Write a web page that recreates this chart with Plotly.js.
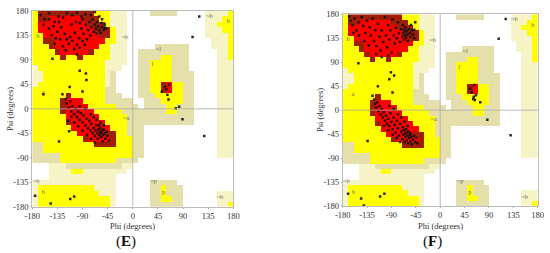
<!DOCTYPE html>
<html><head><meta charset="utf-8">
<script src="https://cdn.plot.ly/plotly-3.0.1.min.js"></script>
<style>html,body{margin:0;padding:0;background:#fff;}#chart{width:550px;height:253px;}</style>
</head><body><div id="chart"></div>
<script>
// Ramachandran region map, 10-degree cells, rows from psi 180 (top) down to psi -180.
// codes: 0 disallowed, 1 generous (pale), 2 generous (tan), 3 allowed (yellow), 4 core (red), 5 core (dark red)
const regionRuns = [
 [[3,1],[5,10],[3,3],[1,3],[0,4],[2,5],[0,5],[1,4],[3,1]],
 [[3,1],[5,2],[4,6],[5,3],[3,2],[1,3],[0,14],[1,3],[3,2]],
 [[3,1],[4,9],[5,3],[3,1],[1,3],[0,14],[1,2],[3,3]],
 [[3,1],[4,10],[5,3],[3,1],[1,2],[0,14],[1,3],[3,2]],
 [[3,2],[4,10],[5,2],[3,1],[1,2],[0,14],[1,4],[3,1]],
 [[3,2],[5,2],[4,9],[3,2],[1,2],[0,15],[1,3],[3,1]],
 [[3,3],[5,1],[4,8],[3,2],[1,3],[0,5],[2,6],[0,4],[1,3],[3,1]],
 [[3,4],[5,1],[4,5],[5,1],[3,3],[1,3],[0,2],[2,9],[0,5],[1,2],[3,1]],
 [[3,5],[5,1],[3,2],[5,1],[3,5],[1,3],[0,2],[2,4],[3,2],[2,3],[0,5],[1,2],[3,1]],
 [[3,13],[1,4],[0,2],[2,2],[3,4],[2,3],[0,5],[1,3]],
 [[1,1],[3,12],[1,3],[0,3],[2,2],[3,4],[2,3],[0,5],[1,3]],
 [[1,2],[3,11],[1,1],[2,1],[0,4],[2,2],[3,4],[2,4],[0,4],[1,3]],
 [[1,2],[3,11],[1,1],[2,1],[0,4],[2,2],[3,4],[2,4],[0,4],[1,3]],
 [[1,1],[3,12],[1,1],[2,1],[0,4],[2,2],[3,2],[5,1],[4,1],[3,2],[2,2],[0,4],[1,3]],
 [[3,13],[2,2],[0,4],[2,2],[3,2],[5,1],[4,1],[3,2],[2,2],[0,4],[1,3]],
 [[3,6],[5,1],[3,6],[2,3],[0,3],[2,3],[3,5],[2,2],[0,4],[1,3]],
 [[3,5],[5,1],[4,3],[3,4],[2,5],[0,2],[2,3],[3,4],[2,2],[0,4],[1,3]],
 [[3,5],[5,1],[4,4],[3,5],[2,4],[0,1],[2,4],[3,2],[2,3],[0,4],[1,3]],
 [[3,5],[5,1],[4,5],[3,5],[2,8],[3,2],[2,3],[0,4],[1,3]],
 [[3,6],[4,6],[3,5],[2,12],[0,4],[1,3]],
 [[3,6],[5,1],[4,6],[3,4],[2,12],[0,4],[1,3]],
 [[3,7],[4,7],[3,3],[2,3],[0,13],[1,3]],
 [[3,8],[4,5],[5,2],[3,2],[2,3],[0,13],[1,3]],
 [[3,9],[5,1],[4,4],[5,1],[3,3],[2,2],[0,13],[1,3]],
 [[2,2],[3,9],[5,4],[3,3],[2,2],[0,13],[1,3]],
 [[2,2],[3,16],[2,2],[0,13],[1,3]],
 [[2,5],[3,13],[2,2],[0,13],[1,3]],
 [[2,5],[3,10],[2,4],[0,17]],
 [[0,3],[1,3],[2,10],[1,2],[0,18]],
 [[0,3],[1,4],[3,2],[1,8],[0,19]],
 [[0,3],[1,12],[0,21]],
 [[1,15],[0,6],[2,5],[0,10]],
 [[1,1],[3,10],[1,4],[0,6],[2,2],[3,1],[2,3],[0,9]],
 [[1,1],[3,11],[1,3],[0,6],[2,2],[3,1],[2,3],[0,6],[1,3]],
 [[1,1],[3,13],[1,1],[0,6],[2,2],[3,2],[2,2],[0,6],[1,3]],
 [[1,1],[3,13],[1,1],[0,6],[2,6],[0,6],[1,2],[3,1]]
];

const tickVals = [-180,-135,-90,-45,0,45,90,135,180];
const tickText = ['-180','-135','-90','-45','0','45','90','135','180'];

// Panel E residues
const ePhi = [
 119,107,128,89,65,52,62,64,77,83,58,60,
 -144,-95,-84,-83,-90,-113,-126,-160,-114,-132,
 -175,-147,-112,-105,
 -165,-158,-150,-140,-133,-125,-118,-108,-100,-92,-85,-160,-150,-142,-135,-128,-122,-118,-115,-112,-108,-104,-100,-96,-92,-88,-84,-80,-78,-76,-74,-72,-70,-68,-66,-65,-64,-62,-60,-58,-56,-55,-52,-50,-48,-130,-138,-145,-125,-120,-105,-95,-90,-86,-82,-140,-100,-150,-132,-110,-102,-95,-90,-75,-68,-60,-55,-50,
 -120,-118,-115,-112,-110,-108,-105,-102,-100,-98,-95,-93,-90,-88,-85,-83,-80,-78,-76,-74,-72,-70,-68,-67,-65,-64,-63,-62,-60,-59,-58,-57,-56,-55,-54,-53,-52,-50,-49,-47,-45,-43,-60,-65,-70,-75,-85,-95,-105,-98,-90,-82,-75,-68,-58,-52,-110,-116
];
const ePsi = [
 170,132,-50,-19,45,32,26,17,1,4,40,36,
 92,70,65,53,32,40,27,27,-41,-60,
 -160,-174,-166,-161,
 172,165,176,160,170,168,176,172,177,170,174,155,148,152,142,150,138,128,120,132,125,140,118,130,148,138,155,145,160,135,150,165,142,155,148,138,160,152,145,140,158,150,145,149,148,128,130,135,115,108,110,112,125,118,128,120,100,165,160,155,160,158,165,172,178,170,165,155,
 18,10,2,14,-5,5,-10,0,-15,-5,-20,-8,-25,-12,-30,-18,-35,-22,-40,-28,-45,-35,-50,-40,-30,-45,-55,-38,-48,-42,-35,-52,-45,-40,-60,-48,-38,-45,-55,-42,-50,-58,-30,-20,-15,-10,0,5,-25,-32,-40,-48,-55,-62,-25,-30,-15,-22
];

// Panel F residues
const fPhi = [
 121,108,130,87,63,55,58,62,61,64,74,66,
 -151,-91,-85,-94,-115,-88,-125,-134,
 -170,-146,-141,-111,-103,
 -168,-165,-162,-158,-155,-150,-145,-142,-138,-135,-130,-128,-125,-122,-120,-118,-115,-112,-110,-108,-105,-102,-100,-98,-96,-94,-92,-90,-88,-86,-84,-82,-80,-78,-76,-74,-72,-70,-69,-68,-67,-66,-65,-64,-63,-62,-61,-60,-58,-56,-55,-54,-52,-50,-48,-46,-140,-132,-150,-160,-108,-118,-96,-48,
 -122,-120,-118,-116,-114,-112,-110,-108,-106,-104,-102,-100,-98,-96,-94,-92,-90,-88,-86,-84,-82,-80,-78,-76,-74,-72,-70,-69,-68,-67,-66,-65,-64,-63,-62,-61,-60,-59,-58,-57,-56,-55,-54,-53,-52,-50,-48,-46,-44,-42,-60,-66,-72,-78,-86,-94,-104,-96,-88,-80,-74
];
const fPsi = [
 171,134,-47,-18,47,40,33,25,21,19,15,28,
 88,71,65,58,45,33,27,-58,
 -157,-166,-179,-162,-157,
 176,168,160,172,150,165,175,158,145,168,155,140,172,130,150,120,162,138,112,150,128,175,140,118,160,132,150,108,170,140,125,155,135,165,145,128,152,138,160,145,132,150,140,155,136,148,142,130,152,145,138,160,150,142,135,165,130,122,140,145,100,105,102,151,
 20,12,5,15,-2,8,-8,2,-14,-4,-20,-10,-26,-16,-30,-6,-22,-36,-14,-28,-42,-20,-34,-48,-26,-40,-54,-32,-46,-38,-60,-44,-50,-36,-56,-42,-48,-62,-40,-52,-46,-58,-44,-50,-64,-55,-48,-60,-52,-62,-30,-22,-14,-8,2,8,-30,-38,-46,-52,-60
];

// Region letters
const labelText = ['b','~b','~b','b','~l','l','a','~a','~b','b','~p','p','~b'];
const labelPhi  = [-170,-14,137,171,46,35,-161,-12,-173,-160,37,55,156];
const labelPsi  = [133,131,170,160,110,81,30,-17,-133,-154,-134,-154,-163];

function expand(runs){const out=[];runs.forEach(r=>{for(let i=0;i<r[1];i++)out.push(r[0]);});return out;}
const z = regionRuns.map(expand).reverse();

const cream='#F6F3C6', tan='#E5DFAC', yellow='#FFFF00', red='#FF0000', dark='#A01E08';
const cs = [[0,'#FFFFFF'],[0.1,'#FFFFFF'],[0.1,cream],[0.3,cream],[0.3,tan],[0.5,tan],[0.5,yellow],[0.7,yellow],[0.7,red],[0.9,red],[0.9,dark],[1,dark]];

function regionTrace(xa,ya){return {type:'heatmap',z:z,x0:-175,dx:10,y0:-175,dy:10,zmin:0,zmax:5,colorscale:cs,showscale:false,hoverinfo:'skip',xaxis:xa,yaxis:ya,zsmooth:false};}
function ptsTrace(px,py,xa,ya){return {type:'scatter',mode:'markers',x:px,y:py,xaxis:xa,yaxis:ya,marker:{symbol:'square',size:2.5,color:'#111',opacity:0.9},hoverinfo:'skip'};}
function lblTrace(xa,ya){return {type:'scatter',mode:'text',x:labelPhi,y:labelPsi,text:labelText,xaxis:xa,yaxis:ya,textfont:{family:'Liberation Serif',size:6.5,color:'#666'},hoverinfo:'skip'};}

const serif='Liberation Serif';
function ax(domain,anchor){return {domain:domain,anchor:anchor,range:[-180,180],tickvals:tickVals,ticktext:tickText,showgrid:false,zeroline:false,showline:true,mirror:true,linecolor:'#bdbdbd',linewidth:1,ticks:'outside',ticklen:1,tickcolor:'#aaa',tickfont:{family:serif,size:8.5,color:'#333'},fixedrange:true};}

const layout = {
 width:550,height:253,margin:{l:0,r:0,t:0,b:0},paper_bgcolor:'#fff',plot_bgcolor:'#fff',showlegend:false,
 xaxis:ax([0.0587,0.4242],'y'), yaxis:ax([0.183,0.9565],'x'),
 xaxis2:ax([0.6231,0.9776],'y2'), yaxis2:ax([0.1858,0.9435],'x2'),
 shapes:[
  {type:'line',xref:'x',x0:0,x1:0,yref:'y domain',y0:0,y1:1,line:{color:'#a8a8a8',width:0.8},layer:'above'},
  {type:'line',yref:'y',y0:0,y1:0,xref:'x domain',x0:0,x1:1,line:{color:'#a8a8a8',width:0.8},layer:'above'},
  {type:'line',xref:'x2',x0:0,x1:0,yref:'y2 domain',y0:0,y1:1,line:{color:'#a8a8a8',width:0.8},layer:'above'},
  {type:'line',yref:'y2',y0:0,y1:0,xref:'x2 domain',x0:0,x1:1,line:{color:'#a8a8a8',width:0.8},layer:'above'}
 ],
 annotations:[
  {text:'Phi (degrees)',xref:'paper',yref:'paper',x:0.2415,y:(253-226.5)/253,xanchor:'center',yanchor:'middle',showarrow:false,font:{family:serif,size:8.5,color:'#333'}},
  {text:'Phi (degrees)',xref:'paper',yref:'paper',x:0.8004,y:(253-225.5)/253,xanchor:'center',yanchor:'middle',showarrow:false,font:{family:serif,size:8.5,color:'#333'}},
  {text:'Psi (degrees)',xref:'paper',yref:'paper',x:10/550,y:(253-109)/253,xanchor:'center',yanchor:'middle',textangle:-90,showarrow:false,font:{family:serif,size:8.5,color:'#333'}},
  {text:'Psi (degrees)',xref:'paper',yref:'paper',x:320/550,y:(253-110)/253,xanchor:'center',yanchor:'middle',textangle:-90,showarrow:false,font:{family:serif,size:8.5,color:'#333'}},
  {text:'(<b>E</b>)',xref:'paper',yref:'paper',x:126/550,y:(253-241)/253,xanchor:'center',yanchor:'middle',showarrow:false,font:{family:serif,size:15,color:'#111'}},
  {text:'(<b>F</b>)',xref:'paper',yref:'paper',x:432/550,y:(253-241)/253,xanchor:'center',yanchor:'middle',showarrow:false,font:{family:serif,size:15,color:'#111'}}
 ]
};

const data=[regionTrace('x','y'),lblTrace('x','y'),ptsTrace(ePhi,ePsi,'x','y'),
            regionTrace('x2','y2'),lblTrace('x2','y2'),ptsTrace(fPhi,fPsi,'x2','y2')];
Plotly.newPlot('chart',data,layout,{staticPlot:true,displayModeBar:false});
</script></body></html>
